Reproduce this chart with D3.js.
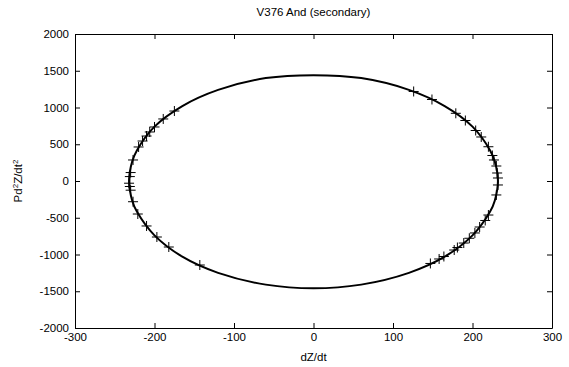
<!DOCTYPE html>
<html>
<head>
<meta charset="utf-8">
<script src="https://cdn.jsdelivr.net/npm/d3@7"></script>
<style>
  body { margin: 0; background: #fff; }
  text { font-family: "Liberation Sans", Arial, sans-serif; fill: #000; }
</style>
</head>
<body>
<div id="chart"></div>
<script>
// Chart size
var svgWidth = 569;
var svgHeight = 367;

var margin = { top: 34, right: 17, bottom: 39, left: 75 };
var width = svgWidth - margin.left - margin.right;
var height = svgHeight - margin.top - margin.bottom;

// Fitted orbit curve (dZ/dt, P d2Z/dt2)
var curveX = [0, 60, 120, 165, 200, 222, 228, 232, 228, 222, 200, 165, 120, 60,
              0, -60, -120, -165, -200, -222, -228, -232, -228, -222, -200, -165, -120, -60];
var curveY = [1440, 1400, 1240, 1020, 740, 420, 268, 0, -268, -420, -740, -1030, -1250, -1410,
              -1460, -1410, -1250, -1030, -740, -420, -268, 0, 268, 420, 740, 1020, 1240, 1400];

// Observations (plus markers)
var obsX = [126, 149, 179, 191, 204, 211, 220, 225, 227, 230, 231, 232, 232, 230,
            220, 216, 209, 203, 196, 189, 181, 177, 164, 158, 147,
            -175, -189, -200, -206, -210, -215, -220, -227, -230, -231, -232, -231, -230,
            -227, -221, -210, -197, -182, -143];
var obsY = [1218, 1109, 921, 823, 687, 599, 466, 347, 286, 204, 109, 41, -54, -190,
            -463, -537, -626, -707, -779, -844, -905, -939, -1027, -1061, -1122,
            952, 844, 735, 667, 612, 544, 463, 286, 115, 60, -30, -75, -125,
            -282, -449, -612, -762, -898, -1143];

var xTicks = [-300, -200, -100, 0, 100, 200, 300];
var yTicks = [-2000, -1500, -1000, -500, 0, 500, 1000, 1500, 2000];

var svg = d3.select("#chart")
  .append("svg")
  .attr("width", svgWidth)
  .attr("height", svgHeight);

var chartGroup = svg.append("g")
  .attr("transform", `translate(${margin.left}, ${margin.top})`);

var xScale = d3.scaleLinear().domain([-300, 300]).range([0, width]);
var yScale = d3.scaleLinear().domain([-2000, 2000]).range([height, 0]);

// plain numbers, hyphen minus like matlab
var fmt = d => String(d);

// axes, matlab style: ticks inside, mirrored on top/right
var bottomAxis = d3.axisBottom(xScale).tickValues(xTicks).tickFormat(fmt).tickSizeInner(-5).tickSizeOuter(0).tickPadding(5);
var leftAxis = d3.axisLeft(yScale).tickValues(yTicks).tickFormat(fmt).tickSizeInner(-5).tickSizeOuter(0).tickPadding(6);
var topAxis = d3.axisTop(xScale).tickValues(xTicks).tickSizeInner(-5).tickSizeOuter(0).tickFormat("");
var rightAxis = d3.axisRight(yScale).tickValues(yTicks).tickSizeInner(-5).tickSizeOuter(0).tickFormat("");

function styleAxis(g) {
  g.selectAll("path").attr("stroke", "#000");
  g.selectAll("line").attr("stroke", "#000");
  g.selectAll("text").style("font-size", "11.5px").attr("fill", "#000");
}

chartGroup.append("g").attr("transform", `translate(0, ${height})`).call(bottomAxis).call(styleAxis);
chartGroup.append("g").call(leftAxis).call(styleAxis);
chartGroup.append("g").call(topAxis).call(styleAxis);
chartGroup.append("g").attr("transform", `translate(${width}, 0)`).call(rightAxis).call(styleAxis);

// orbit curve
var pts = curveX.map((x, i) => [x, curveY[i]]);
var line = d3.line()
  .x(d => xScale(d[0]))
  .y(d => yScale(d[1]))
  .curve(d3.curveCatmullRomClosed);

chartGroup.append("path")
  .datum(pts)
  .attr("d", line)
  .attr("fill", "none")
  .attr("stroke", "#000")
  .attr("stroke-width", 2);

// plus markers
var obs = obsX.map((x, i) => [x, obsY[i]]);
chartGroup.append("g")
  .selectAll("path")
  .data(obs)
  .enter()
  .append("path")
  .attr("transform", d => `translate(${xScale(d[0])}, ${yScale(d[1])})`)
  .attr("d", "M-5,0H5M0,-5V5")
  .attr("stroke", "#000")
  .attr("stroke-width", 1)
  .attr("fill", "none");

// title and labels
svg.append("text")
  .attr("x", margin.left + width / 2)
  .attr("y", 16)
  .attr("text-anchor", "middle")
  .style("font-size", "11.5px")
  .text("V376 And (secondary)");

svg.append("text")
  .attr("x", margin.left + width / 2)
  .attr("y", 361)
  .attr("text-anchor", "middle")
  .style("font-size", "11.5px")
  .text("dZ/dt");

var yLab = svg.append("text")
  .attr("transform", `translate(22, ${margin.top + height / 2}) rotate(-90)`)
  .attr("text-anchor", "middle")
  .style("font-size", "11.5px");
yLab.append("tspan").text("Pd");
yLab.append("tspan").attr("baseline-shift", "super").style("font-size", "8px").text("2");
yLab.append("tspan").text("Z/dt");
yLab.append("tspan").attr("baseline-shift", "super").style("font-size", "8px").text("2");
</script>
</body>
</html>
